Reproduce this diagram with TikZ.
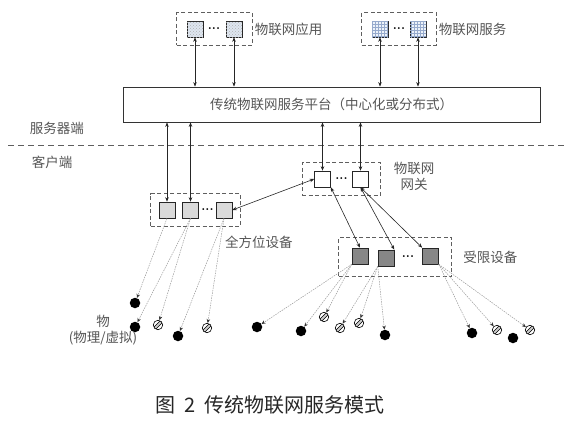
\documentclass[tikz,border=0pt]{standalone}
\usepackage{fontspec}
\usepackage{tikz}
\usetikzlibrary{arrows.meta, positioning, fit, patterns}
\newfontfamily\cjk{Noto Sans CJK SC}
\definecolor{mytext}{RGB}{85,85,85}
\definecolor{mybox}{RGB}{95,95,95}
\definecolor{myapp}{RGB}{222,230,240}
\definecolor{mysrv}{RGB}{236,242,250}
\definecolor{mygrid}{RGB}{150,170,205}
\definecolor{mylight}{RGB}{218,218,218}
\definecolor{mydark}{RGB}{135,135,135}
\tikzset{
  grpbox/.style={rectangle, draw=mybox, dash pattern=on 4pt off 2.5pt, line width=0.8pt, inner xsep=10pt, inner ysep=8pt},
  dev/.style={rectangle, draw=black!85, line width=0.6pt, minimum size=16pt, inner sep=0pt},
  appdev/.style={dev, fill=myapp, postaction={pattern=crosshatch dots, pattern color=black!30}},
  srvdev/.style={dev, fill=mysrv, postaction={pattern=grid, pattern color=mygrid}},
  gwdev/.style={dev, fill=white},
  fulldev/.style={dev, fill=mylight},
  limdev/.style={dev, fill=mydark},
  dotsnode/.style={inner sep=0pt, font=\bfseries\fontsize{13}{13}\selectfont},
  lbl/.style={inner sep=1pt, text=mytext, font=\cjk\fontsize{13.5}{16}\selectfont},
  platform/.style={rectangle, draw=black!80, line width=0.8pt, text=mytext, font=\cjk\fontsize{13.5}{16}\selectfont},
  dblarrow/.style={{Stealth[length=4.5pt, width=3.5pt]}-{Stealth[length=4.5pt, width=3.5pt]}, line width=0.6pt, color=black!85},
  thinglink/.style={draw=black!40, line width=0.5pt, dash pattern=on 1.5pt off 1pt, -{Stealth[length=4pt, width=3.5pt, black!80]}},
  realthing/.style={circle, fill=black, minimum size=10.5pt, inner sep=0pt},
  virtthing/.style={circle, draw=black, line width=0.6pt, fill=white, minimum size=9.5pt, inner sep=0pt,
    path picture={
      \draw[black, line width=3.4pt] (path picture bounding box.south west) -- (path picture bounding box.north east);
      \draw[gray!40, line width=2pt] (path picture bounding box.south west) -- (path picture bounding box.north east);
    }}
}
\begin{document}
\begin{tikzpicture}[x=1pt, y=-1pt]
  \useasboundingbox (0,0) rectangle (568,423);

  % IoT applications
  \node[appdev] (a1) at (195,29) {};
  \node[dotsnode] (adots) at (214,29) {...};
  \node[appdev] (a2) at (234,29) {};
  \node[grpbox, fit=(a1)(a2)] (abox) {};
  \node[lbl, right=1pt of abox.east] (alabel) {物联网应用};

  % IoT services
  \node[srvdev] (s1) at (380,29) {};
  \node[dotsnode] (sdots) at (399,29) {...};
  \node[srvdev] (s2) at (418,29) {};
  \node[grpbox, fit=(s1)(s2)] (sbox) {};
  \node[lbl, right=1pt of sbox.east] (slabel) {物联网服务};

  % Platform
  \node[platform, minimum width=417pt, minimum height=35pt] (plat) at (331.5,104.5) {传统物联网服务平台（中心化或分布式）};

  % Server side / client side
  \node[lbl] (server) at (57,128) {服务器端};
  \coordinate (sepL) at (8,145);
  \coordinate (sepR) at (568,145);
  \draw[draw=mybox, line width=0.8pt, dash pattern=on 6pt off 4pt] (sepL) -- (sepR);
  \node[lbl] (client) at (52,162) {客户端};

  % Gateway
  \node[gwdev] (g1) at (322.5,179) {};
  \node[dotsnode] (gdots) at (341.5,179) {...};
  \node[gwdev] (g2) at (360.5,179) {};
  \node[grpbox, inner xsep=12pt, fit=(g1)(g2)] (gbox) {};
  \node[lbl, align=center] (glabel) at (414,176) {物联网\\网关};

  % Full-featured devices
  \node[fulldev] (o1) at (167,210) {};
  \node[fulldev] (o2) at (190.5,210) {};
  \node[dotsnode] (odots) at (207.5,210) {...};
  \node[fulldev] (o3) at (224,210) {};
  \node[grpbox, inner xsep=8pt, fit=(o1)(o3)] (obox) {};
  \node[lbl, anchor=west] (olabel) at (224,242) {全方位设备};

  % Constrained devices
  \node[limdev] (r1) at (360,256) {};
  \node[limdev] (r2) at (386,258) {};
  \node[dotsnode] (rdots) at (408,257) {...};
  \node[limdev] (r3) at (430.5,256) {};
  \node[grpbox, inner xsep=13pt, inner ysep=10pt, fit=(r1)(r2)(r3)] (rbox) {};
  \node[lbl, right=10pt of rbox.east] (rlabel) {受限设备};

  % Links to the platform
  \foreach \d in {a1,a2,s1,s2}
    \draw[dblarrow] (\d.south) -- (\d.south |- plat.north);
  \foreach \d in {o1,o2,g1,g2}
    \draw[dblarrow] (\d.north |- plat.south) -- (\d.north);

  % Gateway links
  \draw[dblarrow] (g1.west) -- (o3.east);
  \draw[dblarrow] (g1.south east) -- (r1.north);
  \draw[dblarrow] (g2.south) -- (r2.north east);
  \draw[dblarrow] (g2.south) -- (r3.north west);

  % Things
  \node[realthing] (t1) at (135,303) {};
  \node[realthing] (t2) at (135,327) {};
  \node[virtthing] (t3) at (158,325) {};
  \node[realthing] (t4) at (178,336) {};
  \node[virtthing] (t5) at (207,328) {};
  \node[lbl, align=center] (tlabel) at (103,330) {物\\(物理/虚拟)};

  \node[realthing] (u1) at (257,327) {};
  \node[realthing] (u2) at (301,331) {};
  \node[virtthing] (u3) at (324,317) {};
  \node[virtthing] (u4) at (340,328) {};
  \node[virtthing] (u5) at (359,323) {};
  \node[realthing] (u6) at (385,335) {};
  \node[realthing] (u7) at (472,333) {};
  \node[virtthing] (u8) at (497,330) {};
  \node[realthing] (u9) at (513,338) {};
  \node[virtthing] (u10) at (530,330) {};

  \draw[thinglink] (o1.south) -- (t1);
  \draw[thinglink] (o2.south) -- (t2);
  \draw[thinglink] (o2.south) -- (t3);
  \draw[thinglink] (o3.south) -- (t4);
  \draw[thinglink] (o3.south) -- (t5);
  \foreach \t in {u1,u2,u3}
    \draw[thinglink] (r1.south west) -- (\t);
  \foreach \t in {u4,u5,u6}
    \draw[thinglink] (r2.south west) -- (\t);
  \foreach \t in {u7,u8,u10}
    \draw[thinglink] (r3.south east) -- (\t);

  % Caption
  \node[text=black!85, font=\cjk\fontsize{20}{24}\selectfont] (caption) at (270,405) {图\hspace{0.45em}2\hspace{0.45em}传统物联网服务模式};
\end{tikzpicture}
\end{document}
